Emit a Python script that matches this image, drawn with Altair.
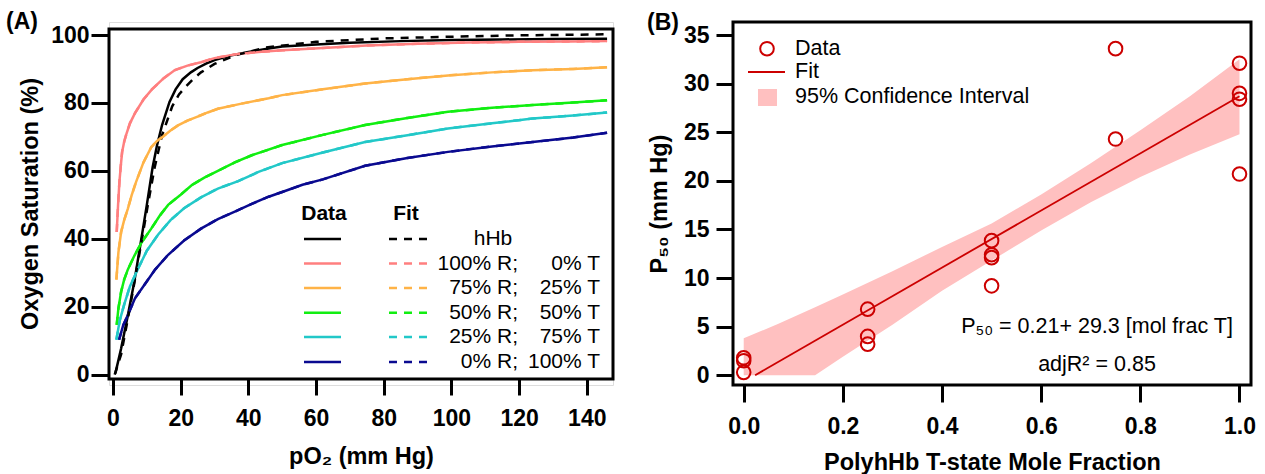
import altair as alt
import pandas as pd

FONT = "Liberation Sans"

# ---------------- Panel A: oxygen equilibrium curves ----------------
hhb_x = [0.7, 2.4, 4.4, 6.3, 8.3, 10.0, 11.7, 13.0, 14.5, 16.7, 18.5, 20.6, 23, 25, 27.5, 30, 35, 40, 46, 50, 60, 70, 85, 100, 115, 130, 146]
hhb_y = [0.4, 7.7, 17.5, 27.4, 39.5, 50.0, 61.0, 67.5, 73.5, 80.3, 84.0, 87.0, 89.0, 90.3, 91.6, 92.6, 94.0, 95.0, 96.0, 96.6, 97.2, 97.7, 98.2, 98.5, 98.7, 98.8, 98.9]
hhb_fit_x = [0.5, 2.4, 4.4, 6.3, 8.3, 10.3, 12.3, 14.5, 17.5, 19.5, 21.5, 24, 26, 30, 36, 45, 60, 80, 100, 120, 146]
hhb_fit_y = [0.0, 6.0, 16.5, 27.0, 38.5, 50.0, 61.0, 70.5, 79.0, 82.5, 84.8, 87.3, 89.0, 91.5, 94.0, 96.3, 98.0, 99.0, 99.5, 99.9, 100.2]

r100_x = [1.1, 1.5, 1.9, 2.3, 2.7, 3.3, 4.0, 5.0, 6.5, 9.0, 11.5, 15, 18.3, 22, 26, 30, 36, 43, 50, 62, 75, 90, 105, 120, 135, 146]
r100_y = [42, 50, 56.8, 61.5, 65.6, 68.6, 71, 74, 77, 81, 84, 87.3, 89.7, 91, 92, 93.2, 94.3, 95, 95.5, 96.2, 96.9, 97.4, 97.8, 98.0, 98.1, 98.2]

r75_x = [1.0, 1.6, 2.4, 3.3, 4.4, 5.5, 6.8, 9.0, 11.3, 13.0, 15, 17, 19.2, 22, 25, 28, 31, 38, 46, 50, 62, 74.5, 87, 99, 112, 124, 136, 146]
r75_y = [28, 36, 42, 45.5, 48.9, 52.8, 56.7, 62.5, 67.0, 68.8, 70.3, 71.9, 73.4, 74.8, 76, 77.2, 78.3, 79.8, 81.4, 82.3, 84, 85.7, 87, 88.1, 89, 89.6, 90, 90.5]

r50_x = [1.1, 1.6, 2.4, 3.3, 4.4, 6.3, 8.5, 11.3, 13.8, 16.3, 20, 23.4, 27, 31, 36, 41, 50, 62, 74.5, 87, 99, 112, 124, 136, 146]
r50_y = [14.7, 19.5, 24.4, 28, 31, 35, 39, 43, 46.8, 50, 53, 55.9, 58, 60, 62.5, 64.6, 67.6, 70.6, 73.5, 75.6, 77.4, 78.6, 79.4, 80.1, 80.8]

r25_x = [1.0, 2.0, 3.3, 5.0, 7.4, 10, 13.3, 17, 21, 26, 31, 37, 43, 50, 62, 74.5, 87, 99, 112, 124, 136, 146]
r25_y = [10.3, 16, 20.6, 26, 31.2, 36.5, 41.2, 45.5, 49, 52.2, 54.8, 57, 59.7, 62.3, 65.4, 68.5, 70.5, 72.5, 74, 75.4, 76.3, 77.2]

r0_x = [1.8, 3.0, 4.4, 6.5, 9.3, 12.5, 16.3, 21, 26, 31, 36, 41, 46, 50, 56, 62, 74.5, 87, 99, 112, 124, 136, 146]
r0_y = [10.3, 14.5, 17.6, 22.5, 26.5, 31, 35.3, 39.5, 43, 45.8, 48, 50.3, 52.4, 53.8, 55.9, 57.5, 61.5, 63.8, 65.6, 67.2, 68.5, 69.8, 71.2]

series_keys = ["hHb", "R100", "R75", "R50", "R25", "R0"]
series_colors = ["#000000", "#FF7F7F", "#FFB347", "#11EE11", "#22C8C8", "#0A0A90"]
label_R = ["", "100% R;", "75% R;", "50% R;", "25% R;", "0% R;"]
label_T = ["", "0% T", "25% T", "50% T", "75% T", "100% T"]

data_sets = [(hhb_x, hhb_y), (r100_x, r100_y), (r75_x, r75_y), (r50_x, r50_y), (r25_x, r25_y), (r0_x, r0_y)]
fit_sets = [(hhb_fit_x, hhb_fit_y), (r100_x, r100_y), (r75_x, r75_y), (r50_x, r50_y), (r25_x, r25_y), (r0_x, r0_y)]

rows_d, rows_f = [], []
for k, (xs, ys) in zip(series_keys, data_sets):
    rows_d += [{"key": k, "x": a, "y": b} for a, b in zip(xs, ys)]
for k, (xs, ys) in zip(series_keys, fit_sets):
    rows_f += [{"key": k, "x": a, "y": b} for a, b in zip(xs, ys)]
dfA_data = pd.DataFrame(rows_d)
dfA_fit = pd.DataFrame(rows_f)

# ---------------- Panel B: P50 vs T-state mole fraction ----------------
frac_T = [0.0, 0.0, 0.0, 0.25, 0.25, 0.25, 0.5, 0.5, 0.5, 0.5, 0.75, 0.75, 1.0, 1.0, 1.0, 1.0]
p50 = [1.8, 1.5, 0.3, 6.8, 4.0, 3.2, 13.85, 12.4, 12.1, 9.2, 33.6, 24.3, 32.1, 29.0, 28.4, 20.7]

fit_x = [0.023, 1.0]
fit_y = [0.0, 28.7]

band_x = [0.0, 0.07, 0.144, 0.2, 0.3, 0.4, 0.5, 0.6, 0.7, 0.8, 0.9, 1.0]
band_lo = [0.0, 0.0, 0.0, 1.9, 5.2, 8.7, 11.8, 14.9, 17.8, 20.4, 22.7, 24.8]
band_hi = [3.8, 5.3, 7.0, 8.3, 10.7, 13.2, 15.6, 18.6, 21.8, 25.2, 28.7, 32.5]

dfB_pts = pd.DataFrame({"x": frac_T, "y": p50})
dfB_fit = pd.DataFrame({"x": fit_x, "y": fit_y})
dfB_band = pd.DataFrame({"x": band_x, "lo": band_lo, "hi": band_hi})

ONE = pd.DataFrame({"a": [0]})
H = 363
W_A = 504
W_B = 518
RED = "#CC0000"
TICK_FS = 23
TITLE_FS = 23.5

def axis(values, title, tick=17, lpad=2, tpad=10, offset=0, fmt=None):
    kw = dict(values=values, title=title, grid=False, domain=False, tickSize=tick, tickWidth=3,
              tickColor="black", labelFont=FONT, labelFontSize=TICK_FS, labelFontWeight="bold",
              labelColor="black", labelPadding=lpad, titleFont=FONT, titleFontSize=TITLE_FS,
              titleFontWeight="bold", titleColor="black", titlePadding=tpad, offset=offset)
    if fmt:
        kw["format"] = fmt
    return alt.Axis(**kw)

def txt(s, x, y, size=21, weight="normal", align="left"):
    return alt.Chart(ONE).mark_text(text=s, font=FONT, fontSize=size, fontWeight=weight,
                                    align=align, baseline="middle", color="black").encode(
        x=alt.value(x), y=alt.value(y))

# ---- Panel A chart ----
xa = alt.Scale(domain=[-1.18, 147.75], nice=False, zero=False)
ya = alt.Scale(domain=[-3.03, 103.83], nice=False, zero=False)
cs = alt.Scale(domain=series_keys, range=series_colors)

a_data = alt.Chart(dfA_data).mark_line(strokeWidth=2.5).encode(
    x=alt.X("x:Q", scale=xa, axis=axis(list(range(0, 141, 20)), "pO₂   (mm Hg)", tick=16, lpad=12, tpad=14, offset=-6)),
    y=alt.Y("y:Q", scale=ya, axis=axis(list(range(0, 101, 20)), "Oxygen Saturation (%)", tick=18, lpad=2, tpad=8)),
    color=alt.Color("key:N", scale=cs, legend=None),
)
a_fit = alt.Chart(dfA_fit).mark_line(strokeWidth=2.5, strokeDash=[8, 7]).encode(
    x=alt.X("x:Q", scale=xa), y=alt.Y("y:Q", scale=ya),
    color=alt.Color("key:N", scale=cs, legend=None),
)
a_frame = alt.Chart(ONE).mark_rect(fillOpacity=0, stroke="black", strokeWidth=3).encode(
    x=alt.value(0), x2=alt.value(W_A), y=alt.datum(101.77), y2=alt.datum(-1.27))

a_layers = [a_data, a_fit, a_frame,
            txt("Data", 215, 192, weight="bold", align="center"),
            txt("Fit", 297, 192, weight="bold", align="center"),
            txt("(A)", -103, 0, size=23, weight="bold")]
row_y = [217, 241.5, 266, 290.7, 315, 340]
for i, c in enumerate(series_colors):
    yy = row_y[i]
    a_layers.append(alt.Chart(ONE).mark_rule(color=c, strokeWidth=2.5).encode(
        x=alt.value(195), x2=alt.value(232), y=alt.value(yy)))
    a_layers.append(alt.Chart(ONE).mark_rule(color=c, strokeWidth=2.5, strokeDash=[8, 7]).encode(
        x=alt.value(280), x2=alt.value(319), y=alt.value(yy)))
    if i == 0:
        a_layers.append(txt("hHb", 384, yy, align="center"))
    else:
        a_layers.append(txt(label_R[i], 409, yy, align="right"))
        a_layers.append(txt(label_T[i], 491, yy, align="right"))

chartA = alt.layer(*a_layers).properties(width=W_A, height=H)

# ---- Panel B chart ----
xb = alt.Scale(domain=[-0.0216, 1.0232], nice=False, zero=False)
yb = alt.Scale(domain=[-1.0, 36.34], nice=False, zero=False)

b_band = alt.Chart(dfB_band).mark_area(color="#FFC0C0", opacity=1).encode(
    x=alt.X("x:Q", scale=xb, axis=axis([0, 0.2, 0.4, 0.6, 0.8, 1.0], "PolyhHb T-state Mole Fraction", tick=17, lpad=13, tpad=12, fmt=".1f")),
    y=alt.Y("lo:Q", scale=yb, axis=axis(list(range(0, 36, 5)), "P₅₀  (mm Hg)", tick=17, lpad=7, tpad=12)),
    y2="hi:Q",
)
b_fit = alt.Chart(dfB_fit).mark_line(color=RED, strokeWidth=1.8).encode(
    x=alt.X("x:Q", scale=xb), y=alt.Y("y:Q", scale=yb))
b_pts = alt.Chart(dfB_pts).mark_point(shape="circle", filled=False, size=185, strokeWidth=2, color=RED, opacity=1).encode(
    x=alt.X("x:Q", scale=xb), y=alt.Y("y:Q", scale=yb))
b_frame = alt.Chart(ONE).mark_rect(fillOpacity=0, stroke="black", strokeWidth=3).encode(
    x=alt.value(0), x2=alt.value(W_B), y=alt.value(0), y2=alt.value(H))

b_layers = [b_band, b_fit, b_pts, b_frame,
            alt.Chart(ONE).mark_point(shape="circle", filled=False, size=185, strokeWidth=2, color=RED, opacity=1).encode(
                x=alt.value(34), y=alt.value(26.7)),
            alt.Chart(ONE).mark_rule(color=RED, strokeWidth=2).encode(x=alt.value(15), x2=alt.value(52), y=alt.value(50)),
            alt.Chart(ONE).mark_rect(color="#FFC0C0").encode(x=alt.value(25), x2=alt.value(44), y=alt.value(67), y2=alt.value(84)),
            txt("Data", 62, 26.7, size=21.5),
            txt("Fit", 62, 50, size=21.5),
            txt("95% Confidence Interval", 62, 75, size=21.5),
            txt("P₅₀ = 0.21+ 29.3 [mol frac T]", 364, 305, size=21.5, align="center"),
            txt("adjR² = 0.85", 364, 343, size=21.5, align="center"),
            txt("(B)", -86, 1, size=23, weight="bold")]

chartB = alt.layer(*b_layers).properties(width=W_B, height=H)

chart = alt.hconcat(chartA, chartB, spacing=31).properties(
    padding={"left": 5, "top": 10, "right": 5, "bottom": 0}
).configure_view(stroke=None).configure(background="white")

chart.save("out.html", embed_options={"renderer": "svg", "actions": False})
